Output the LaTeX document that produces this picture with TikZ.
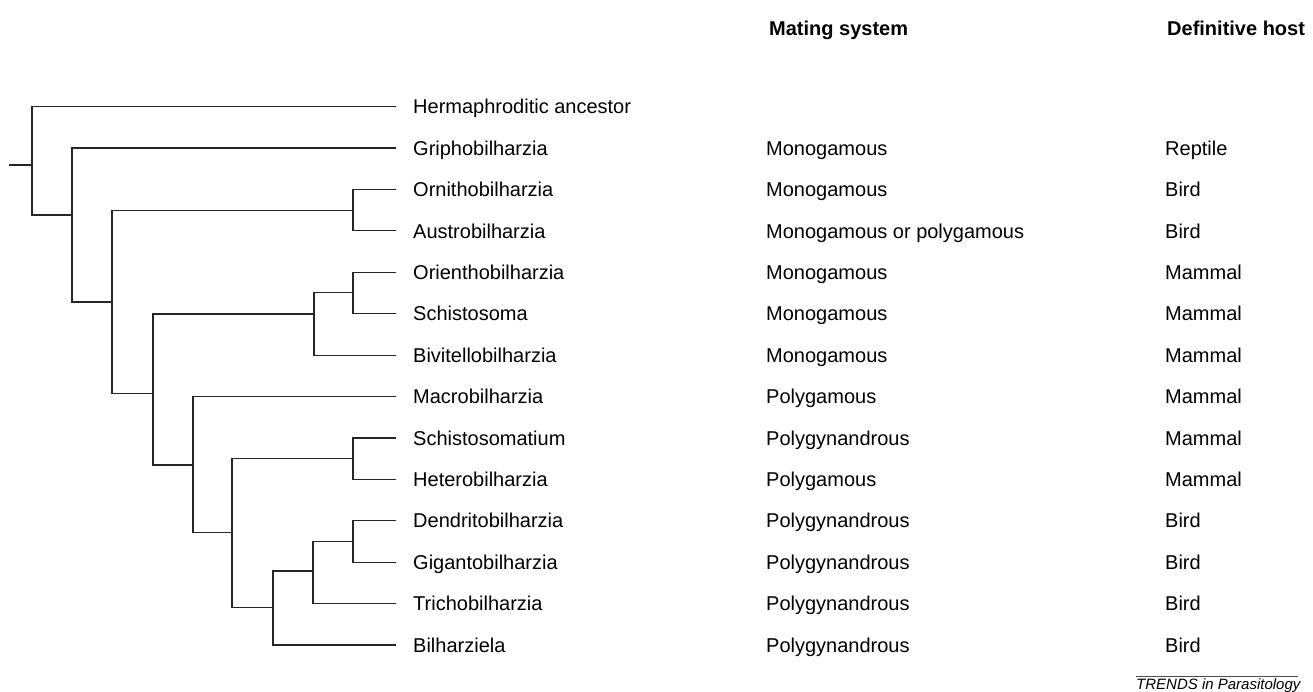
\documentclass[tikz,border=0pt]{standalone}
\usepackage{fontspec}
\setmainfont{Liberation Sans}
\begin{document}
\begin{tikzpicture}[x=1pt,y=-1pt,
  branch/.style={line width=1.2pt, black!85, line cap=rect},
  taxon/.style={anchor=west, inner sep=0pt, font=\fontsize{20}{24}\selectfont, text height=14.3pt, text depth=0pt},
  header/.style={taxon, font=\fontsize{20}{24}\selectfont\bfseries},
  source/.style={anchor=base west, inner sep=0pt, font=\fontsize{15}{18}\selectfont\itshape}]
\fill[white] (0,0) rectangle (1313,692);
\useasboundingbox (0,0) rectangle (1313,692);

% headers
\node[header] (hm) at (769,28) {Mating system};
\node[header] (hh) at (1167,28) {Definitive host};

% ancestor row
\coordinate (t0) at (395,106.7);
\node[taxon] (g0) at (413,106.7) {Hermaphroditic ancestor};

% taxon rows
\foreach \i/\name/\mate/\host [evaluate=\i as \y using 106.7+41.4*\i] in {
  1/Griphobilharzia/Monogamous/Reptile,
  2/Ornithobilharzia/Monogamous/Bird,
  3/Austrobilharzia/{Monogamous or polygamous}/Bird,
  4/Orienthobilharzia/Monogamous/Mammal,
  5/Schistosoma/Monogamous/Mammal,
  6/Bivitellobilharzia/Monogamous/Mammal,
  7/Macrobilharzia/Polygamous/Mammal,
  8/Schistosomatium/Polygynandrous/Mammal,
  9/Heterobilharzia/Polygamous/Mammal,
  10/Dendritobilharzia/Polygynandrous/Bird,
  11/Gigantobilharzia/Polygynandrous/Bird,
  12/Trichobilharzia/Polygynandrous/Bird,
  13/Bilharziela/Polygynandrous/Bird}{
  \coordinate (t\i) at (395,\y);
  \node[taxon] (g\i) at (413,\y) {\name};
  \node[taxon] (m\i) at (766,\y) {\mate};
  \node[taxon] (h\i) at (1165,\y) {\host};
}

% internal nodes
\coordinate (stub) at (10,165);
\coordinate (r)  at (32,165);
\coordinate (n1) at (72,215);
\coordinate (n2) at (112,302);
\coordinate (na) at (353,210.7);
\coordinate (n3) at (153,393.3);
\coordinate (nb) at (314,314);
\coordinate (nc) at (353,292.7);
\coordinate (n4) at (193,465);
\coordinate (n5) at (232,532.7);
\coordinate (nd) at (353,458.3);
\coordinate (n6) at (273,607.7);
\coordinate (n7) at (313,571);
\coordinate (n8) at (353,541.7);

% branches
\draw[branch] (stub) -- (r);
\draw[branch] (r) |- (t0);  \draw[branch] (r) |- (n1);
\draw[branch] (n1) |- (t1); \draw[branch] (n1) |- (n2);
\draw[branch] (n2) |- (na); \draw[branch] (n2) |- (n3);
\draw[branch] (na) |- (t2); \draw[branch] (na) |- (t3);
\draw[branch] (n3) |- (nb); \draw[branch] (n3) |- (n4);
\draw[branch] (nb) |- (nc); \draw[branch] (nb) |- (t6);
\draw[branch] (nc) |- (t4); \draw[branch] (nc) |- (t5);
\draw[branch] (n4) |- (t7); \draw[branch] (n4) |- (n5);
\draw[branch] (n5) |- (nd); \draw[branch] (n5) |- (n6);
\draw[branch] (nd) |- (t8); \draw[branch] (nd) |- (t9);
\draw[branch] (n6) |- (n7); \draw[branch] (n6) |- (t13);
\draw[branch] (n7) |- (n8); \draw[branch] (n7) |- (t12);
\draw[branch] (n8) |- (t10); \draw[branch] (n8) |- (t11);

% source line
\coordinate (sl) at (1136,676);
\coordinate (sr) at (1298,676);
\draw[black!70, line width=0.6pt] (sl) -- (sr);
\node[source] (src) at (1136,689.5) {TRENDS in Parasitology};
\end{tikzpicture}
\end{document}
